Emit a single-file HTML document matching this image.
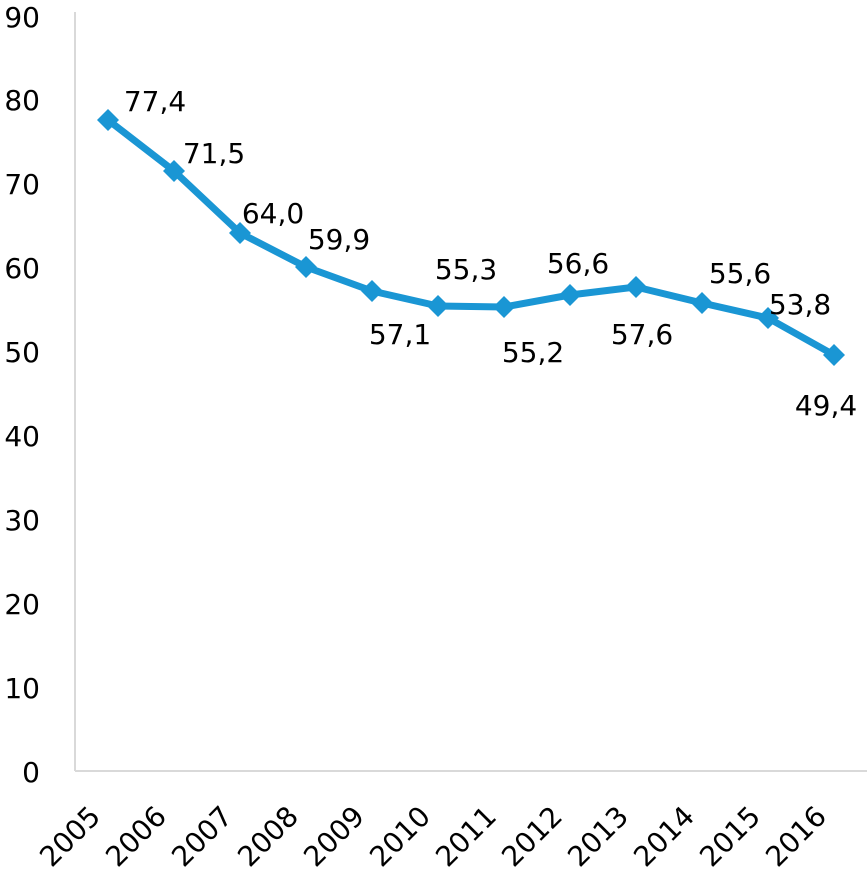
<!DOCTYPE html>
<html><head><style>
html,body{margin:0;padding:0;background:#fff;}
svg{display:block;}
text{font-family:"DejaVu Sans","Liberation Sans",sans-serif;font-size:28px;fill:#000;}
text.yr{font-size:28px;}
</style></head><body>
<svg width="867" height="871" viewBox="0 0 867 871">
<line x1="75" y1="12" x2="75" y2="771" stroke="#d9d9d9" stroke-width="2"/>
<line x1="75" y1="771" x2="867" y2="771" stroke="#d9d9d9" stroke-width="2"/>
<g text-anchor="end">
<text x="40" y="782">0</text>
<text x="40" y="698">10</text>
<text x="40" y="614">20</text>
<text x="40" y="530">30</text>
<text x="40" y="446">40</text>
<text x="40" y="362">50</text>
<text x="40" y="278">60</text>
<text x="40" y="194">70</text>
<text x="40" y="110">80</text>
<text x="40" y="27">90</text>
</g>
<g text-anchor="end">
<text class="yr" transform="translate(102,818) rotate(-45)">2005</text>
<text class="yr" transform="translate(168,818) rotate(-45)">2006</text>
<text class="yr" transform="translate(234,818) rotate(-45)">2007</text>
<text class="yr" transform="translate(300,818) rotate(-45)">2008</text>
<text class="yr" transform="translate(366,818) rotate(-45)">2009</text>
<text class="yr" transform="translate(432,818) rotate(-45)">2010</text>
<text class="yr" transform="translate(498,818) rotate(-45)">2011</text>
<text class="yr" transform="translate(564,818) rotate(-45)">2012</text>
<text class="yr" transform="translate(630,818) rotate(-45)">2013</text>
<text class="yr" transform="translate(696,818) rotate(-45)">2014</text>
<text class="yr" transform="translate(762,818) rotate(-45)">2015</text>
<text class="yr" transform="translate(828,818) rotate(-45)">2016</text>
</g>
<polyline fill="none" stroke="#1a96d4" stroke-width="7" stroke-linejoin="round"
points="108,120 174,171 240,233 306,267 372,291 438,306 504,307 570,295 636,287 702,303 768,318 834,355"/>
<g fill="#1a96d4">
<path d="M108,109l11,11l-11,11l-11,-11z"/>
<path d="M174,160l11,11l-11,11l-11,-11z"/>
<path d="M240,222l11,11l-11,11l-11,-11z"/>
<path d="M306,256l11,11l-11,11l-11,-11z"/>
<path d="M372,280l11,11l-11,11l-11,-11z"/>
<path d="M438,295l11,11l-11,11l-11,-11z"/>
<path d="M504,296l11,11l-11,11l-11,-11z"/>
<path d="M570,284l11,11l-11,11l-11,-11z"/>
<path d="M636,276l11,11l-11,11l-11,-11z"/>
<path d="M702,292l11,11l-11,11l-11,-11z"/>
<path d="M768,307l11,11l-11,11l-11,-11z"/>
<path d="M834,344l11,11l-11,11l-11,-11z"/>
</g>
<g text-anchor="middle">
<text x="155" y="111">77,4</text>
<text x="214" y="163">71,5</text>
<text x="273" y="223">64,0</text>
<text x="339" y="249">59,9</text>
<text x="400" y="344">57,1</text>
<text x="466" y="279">55,3</text>
<text x="533" y="362">55,2</text>
<text x="578" y="273">56,6</text>
<text x="642" y="344">57,6</text>
<text x="740" y="283">55,6</text>
<text x="800" y="314">53,8</text>
<text x="826" y="415">49,4</text>
</g>
</svg>
</body></html>
